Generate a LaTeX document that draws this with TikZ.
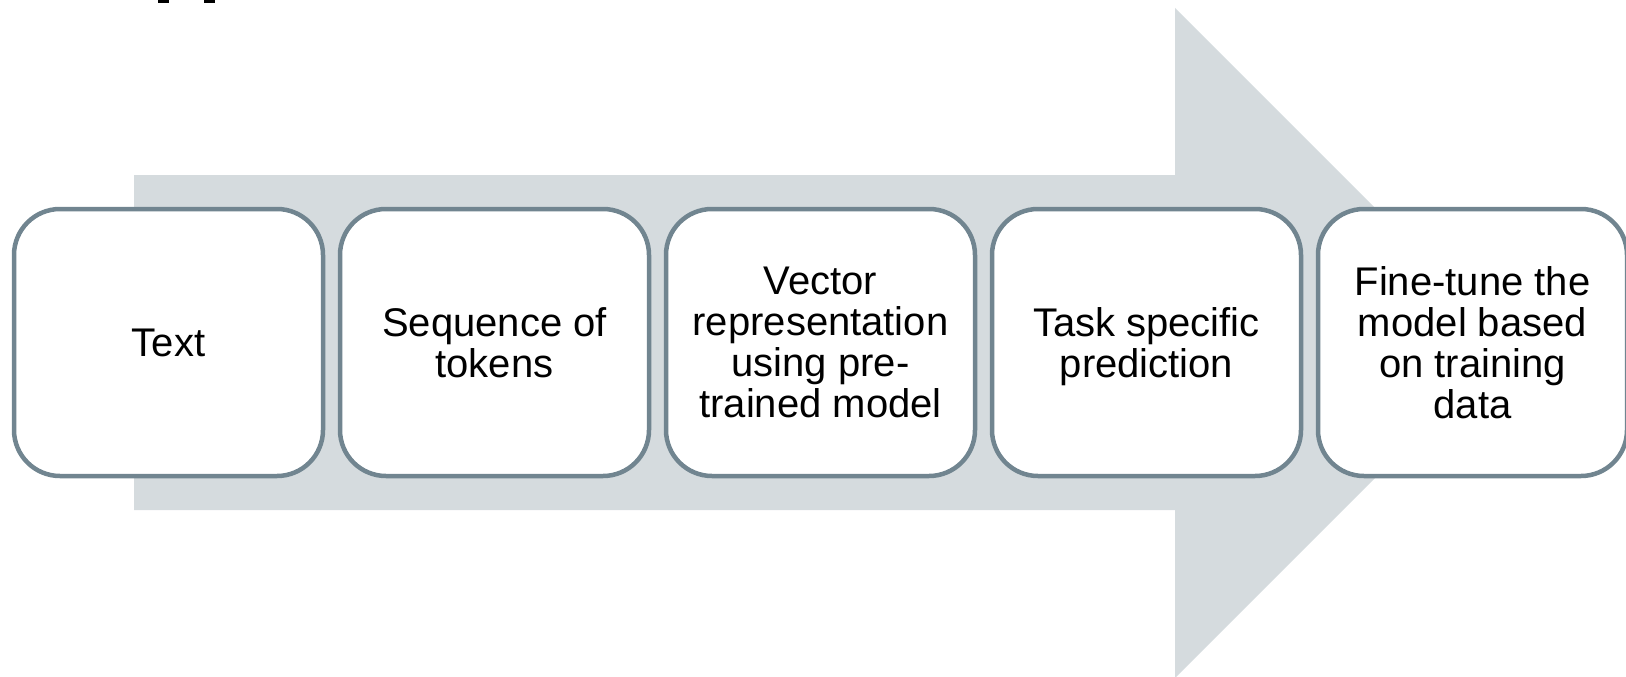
\documentclass[tikz,border=0pt]{standalone}
\usepackage{fontspec}
\setmainfont{Liberation Sans}
\definecolor{arrowgrey}{HTML}{D5DBDE}
\definecolor{boxline}{HTML}{718590}
\begin{document}
\begin{tikzpicture}[x=1pt,y=-1pt,
  stage/.style={draw=boxline, line width=4.5pt, fill=white, rounded corners=46pt,
    minimum width=309pt, minimum height=267pt, inner sep=0pt, align=center,
    font=\fontsize{40}{41}\selectfont, text=black}]
  \useasboundingbox (0,0) rectangle (1626,677);
  % clipped glyph fragments along the top edge
  \fill[black] (158,0) rectangle (169,3);
  \fill[black] (204,0) rectangle (215,3);
  % large background arrow
  \fill[arrowgrey] (134,175) -- (1175,175) -- (1175,8) -- (1510,343)
    -- (1175,678) -- (1175,510) -- (134,510) -- cycle;
  % process stages
  \node[stage] (s1) at (168.5,342.5) {Text};
  \node[stage] (s2) at (494.5,342.5) {Sequence of\\tokens};
  \node[stage] (s3) at (820.5,342.5) {Vector\\representation\\using pre-\\trained model};
  \node[stage] (s4) at (1146.5,342.5) {Task specific\\\raisebox{0pt}[\height][0pt]{prediction}};
  \node[stage] (s5) at (1472.5,342.5) {Fine-tune the\\model based\\on training\\data};
\end{tikzpicture}
\end{document}
